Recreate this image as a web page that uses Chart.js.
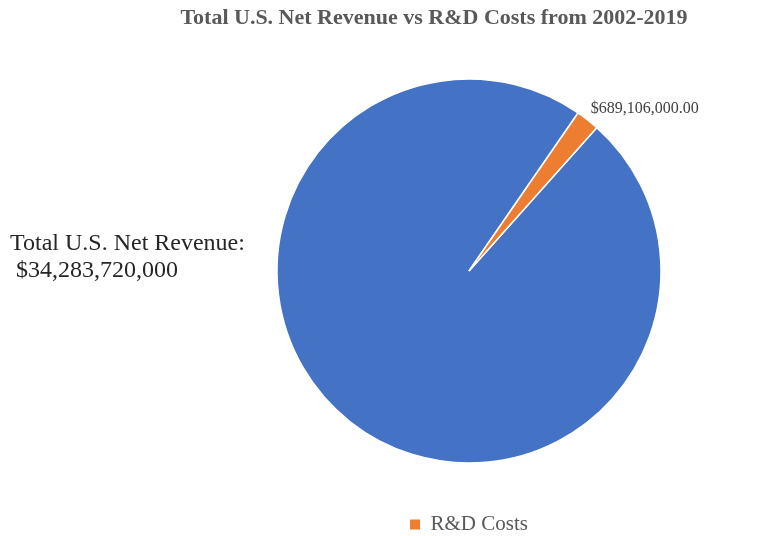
<!DOCTYPE html>
<html lang="en">
<head>
  <meta charset="UTF-8" />
  <title>Total U.S. Net Revenue vs R&amp;D Costs</title>
  <script src="https://cdn.jsdelivr.net/npm/chart.js"></script>
  <style>
    html, body { margin: 0; padding: 0; background: #fff; }
    #wrap { width: 761px; height: 536px; position: relative; }
  </style>
</head>
<body>
  <div id="wrap"><canvas id="pieChart"></canvas></div>

  <script>
    const labels = ['Total U.S. Net Revenue', 'R&D Costs'];
    const values = [34283720000, 689106000];
    const valueText = ['$34,283,720,000', '$689,106,000.00'];
    const colors = ['#4472C4', '#ED7D31'];
    const chartTitle = 'Total U.S. Net Revenue vs R&D Costs from 2002-2019';

    const serif = '"Liberation Serif", "Times New Roman", serif';

    // title + slice labels drawn on top
    const textPlugin = {
      id: 'textPlugin',
      afterDraw(chart) {
        const ctx = chart.ctx;
        const arcs = chart.getDatasetMeta(0).data;
        ctx.save();

        ctx.font = 'bold 22px ' + serif;
        ctx.fillStyle = '#595959';
        ctx.textAlign = 'center';
        ctx.textBaseline = 'middle';
        ctx.fillText(chartTitle, 434, 18);

        // revenue label on the left
        const a0 = arcs[0];
        ctx.font = '24px ' + serif;
        ctx.fillStyle = '#262626';
        ctx.textAlign = 'left';
        ctx.fillText(labels[0] + ':', 10, a0.y - 27);
        ctx.fillText(' ' + valueText[0], 10, a0.y);

        // R&D value outside the small slice
        const a1 = arcs[1];
        const mid = (a1.startAngle + a1.endAngle) / 2;
        const px = a1.x + Math.cos(mid) * (a1.outerRadius + 10) - 3;
        const py = a1.y + Math.sin(mid) * (a1.outerRadius + 10) - 3;
        ctx.font = '16px ' + serif;
        ctx.fillStyle = '#404040';
        ctx.textAlign = 'left';
        ctx.fillText(valueText[1], px, py);

        ctx.restore();
      }
    };

    new Chart(document.getElementById('pieChart'), {
      type: 'pie',
      data: {
        labels: labels,
        datasets: [{
          data: values,
          backgroundColor: colors,
          borderColor: '#ffffff',
          borderWidth: 1.5,
          radius: 192
        }]
      },
      options: {
        responsive: true,
        maintainAspectRatio: false,
        animation: false,
        rotation: 41.7,
        layout: { padding: { top: 29, bottom: -9, left: 277, right: 100 } },
        plugins: {
          title: { display: false },
          tooltip: { enabled: false },
          legend: {
            position: 'bottom',
            labels: {
              generateLabels: (chart) =>
                Chart.overrides.doughnut.plugins.legend.labels.generateLabels(chart)
                  .filter((item) => item.index === 1)
                  .map((item) => ({ ...item, lineWidth: 0 })),
              boxWidth: 10,
              boxHeight: 10,
              padding: 1,
              color: '#595959',
              font: { family: serif, size: 21 }
            }
          }
        }
      },
      plugins: [textPlugin]
    });
  </script>
</body>
</html>
